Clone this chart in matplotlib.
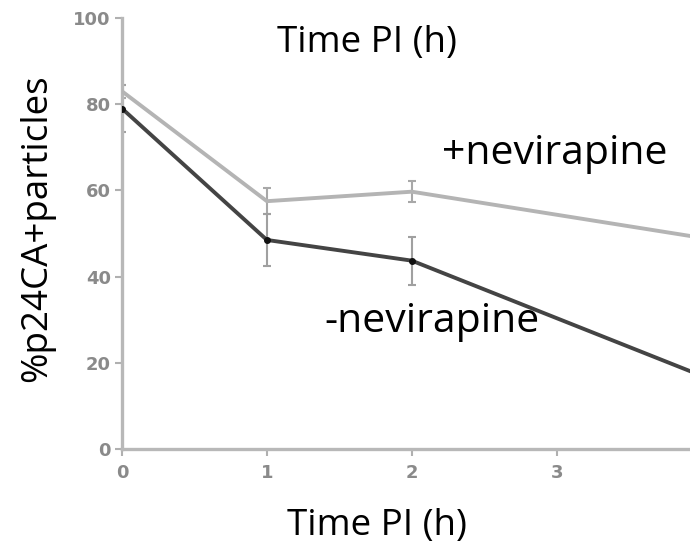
import matplotlib
matplotlib.use("Agg")
import matplotlib.pyplot as plt

time_h = [0, 1, 2, 4]
plus_nev = [83, 57.5, 59.7, 49]
plus_err = [1.5, 3.0, 2.4, 0]
minus_nev = [79, 48.5, 43.7, 17]
minus_err = [5.5, 6.0, 5.6, 0]
xticks = [0, 1, 2, 3]
yticks = [0, 20, 40, 60, 80, 100]

fig = plt.figure(figsize=(6.9, 5.46), dpi=100)
ax = fig.add_axes([0.1768, 0.1777, 1 - 0.1768, 0.967 - 0.1777])

light = "#b4b4b4"
dark = "#444444"
ax.errorbar(time_h[:3], plus_nev[:3], yerr=plus_err[:3], fmt="none",
            ecolor="#a8a8a8", elinewidth=1.5, capsize=3, capthick=1.5, zorder=2)
ax.errorbar(time_h[:3], minus_nev[:3], yerr=minus_err[:3], fmt="none",
            ecolor="#a0a0a0", elinewidth=1.5, capsize=3, capthick=1.5, zorder=2)
ax.plot(time_h, plus_nev, color=light, lw=2.8, zorder=3)
ax.plot(time_h, minus_nev, color=dark, lw=2.8, zorder=4)
ax.plot(time_h[:3], minus_nev[:3], "o", color="#111111", ms=4, zorder=5)

ax.set_xlim(0, 3.92)
ax.set_ylim(0, 100)
ax.set_xticks(xticks)
ax.set_yticks(yticks)
ax.set_xticklabels([str(t) for t in xticks])
ax.set_yticklabels([str(t) for t in yticks])

for s in ["top", "right"]:
    ax.spines[s].set_visible(False)
for s in ["left", "bottom"]:
    ax.spines[s].set_color("#b8b8b8")
    ax.spines[s].set_linewidth(2.4)
ax.tick_params(axis="both", colors="#b0b0b0", length=5, width=1.5,
               labelcolor="#8a8a8a", labelsize=13)
ax.tick_params(axis="x", pad=6)
ax.tick_params(axis="y", pad=3)
for lab in ax.get_xticklabels() + ax.get_yticklabels():
    lab.set_fontweight("bold")
ax.patch.set_alpha(0)

f1 = dict(family="Open Sans", fontsize=26.5, color="black")
f2 = dict(family="Open Sans", fontsize=29.5, color="black")
fig.text(367 / 690, 1 - 43 / 546, "Time PI (h)", ha="center", va="center", **f1)
fig.text(377 / 690, 1 - 526 / 546, "Time PI (h)", ha="center", va="center", **f1)
fig.text(37 / 690, 1 - 228 / 546, "%p24CA+particles", ha="center", va="center",
         rotation=90, **f1)
fig.text(555 / 690, 1 - 154 / 546, "+nevirapine", ha="center", va="center", **f2)
fig.text(432 / 690, 1 - 322 / 546, "-nevirapine", ha="center", va="center", **f2)

fig.savefig("out.png", dpi=100)
